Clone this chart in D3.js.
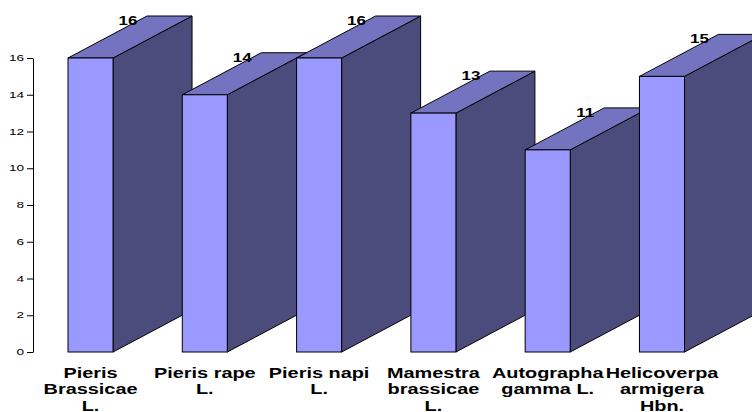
<!DOCTYPE html>
<html>
<head>
<meta charset="utf-8">
<script src="https://cdn.jsdelivr.net/npm/d3@7"></script>
<style>
  body { margin: 0; background: #fff; }
  svg { display: block; font-family: "Liberation Sans", Arial, sans-serif; }
</style>
</head>
<body>
<div id="chart"></div>
<script>
// species names (line breaks as in the picture)
var categories = [
  "Pieris\nBrassicae\nL.",
  "Pieris rape\nL.",
  "Pieris napi\nL.",
  "Mamestra\nbrassicae\nL.",
  "Autographa\ngamma L.",
  "Helicoverpa\narmigera\nHbn."
];
var values = [16, 14, 16, 13, 11, 15];
var yTicks = [0, 2, 4, 6, 8, 10, 12, 14, 16];

var width = 752, height = 412;
var depthX = 79, depthY = -42;
var stretch = 1.42; // text in the picture is drawn wide

var svg = d3.select('#chart').append('svg')
    .attr('width', width)
    .attr('height', height);

var x = d3.scaleBand()
    .domain(categories)
    .range([68, 684.5])
    .paddingInner(0.606)
    .paddingOuter(0);

var y = d3.scaleLinear()
    .domain([0, 16])
    .range([352, 58]);

// y axis
var yAxis = svg.append('g')
    .attr('transform', 'translate(33,0)')
    .call(d3.axisLeft(y).tickValues(yTicks).tickSize(6).tickSizeOuter(0).tickPadding(2));
yAxis.select('.domain').attr('stroke', '#000');
yAxis.selectAll('.tick line').attr('stroke', '#000');
yAxis.selectAll('.tick text')
    .attr('font-size', 8.5)
    .attr('fill', '#000')
    .attr('font-family', '"Liberation Sans", Arial, sans-serif')
    .attr('x', -9 / 1.6)
    .attr('transform', 'scale(1.6,1)');

// 3D bars
var data = categories.map(function(c, i) { return {cat: c, val: values[i]}; });
var bars = svg.selectAll('.bar').data(data).enter().append('g').attr('class', 'bar');

bars.each(function(d) {
  var g = d3.select(this);
  var x0 = x(d.cat), x1 = x0 + x.bandwidth();
  var yt = y(d.val), yb = y(0);
  // side face
  g.append('polygon')
    .attr('points', [[x1, yt], [x1 + depthX, yt + depthY], [x1 + depthX, yb + depthY], [x1, yb]].join(' '))
    .attr('fill', '#4b4b7c')
    .attr('stroke', '#000').attr('stroke-width', 1).attr('stroke-linejoin', 'round');
  // top face
  g.append('polygon')
    .attr('points', [[x0, yt], [x0 + depthX, yt + depthY], [x1 + depthX, yt + depthY], [x1, yt]].join(' '))
    .attr('fill', '#7373c0')
    .attr('stroke', '#000').attr('stroke-width', 1).attr('stroke-linejoin', 'round');
  // front face
  g.append('rect')
    .attr('x', x0).attr('y', yt)
    .attr('width', x.bandwidth()).attr('height', yb - yt)
    .attr('fill', '#9999ff')
    .attr('stroke', '#000').attr('stroke-width', 1);
});

// value labels
svg.selectAll('.val').data(data).enter().append('text')
    .attr('transform', function(d) {
      return 'translate(' + (x(d.cat) + 60) + ',' + (y(d.val) - 33) + ') scale(' + stretch + ',1)';
    })
    .attr('text-anchor', 'middle')
    .attr('font-size', 12)
    .attr('font-weight', 'bold')
    .text(function(d) { return d.val; });

// category labels
svg.selectAll('.cat').data(categories).enter().append('text')
    .attr('transform', function(c) {
      return 'translate(' + (x(c) + x.bandwidth() / 2) + ',378) scale(' + stretch + ',1)';
    })
    .attr('text-anchor', 'middle')
    .attr('font-size', 14)
    .attr('font-weight', 'bold')
    .each(function(c) {
      var t = d3.select(this);
      c.split('\n').forEach(function(line, i) {
        t.append('tspan')
          .attr('x', 0)
          .attr('y', i * 16.5)
          .text(line);
      });
    });
</script>
</body>
</html>
